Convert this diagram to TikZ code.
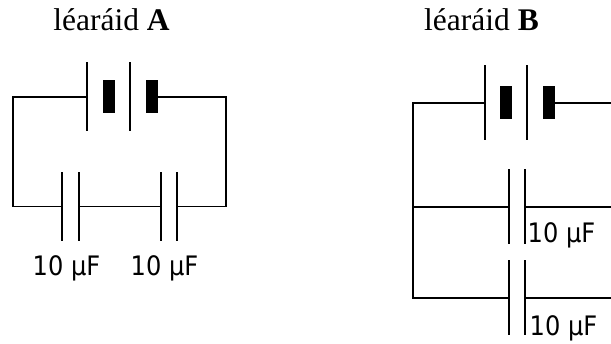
\documentclass[tikz,border=0pt]{standalone}
\usepackage{fontspec}
\setmainfont{Liberation Serif}
\newfontfamily\valfont{DejaVu Sans Condensed}
\usepackage{tikz}
\tikzset{
  wire/.style={line width=1.8pt},
  plate/.style={rectangle,fill=black,inner sep=0pt,minimum width=2pt},
  longplate/.style={plate,minimum height=69pt},
  tallplate/.style={plate,minimum height=75pt},
  cell/.style={rectangle,fill=black,inner sep=0pt,minimum width=12pt,minimum height=33pt},
  title/.style={inner sep=0pt,font=\fontsize{31.5}{36}\selectfont},
  val/.style={inner sep=0pt,font=\valfont\fontsize{26.8}{30}\selectfont}
}
\begin{document}
\begin{tikzpicture} [x=1pt,y=-1pt]
    \useasboundingbox (0,0) rectangle (611,344);
    % A
      \node[title] (ta) at (111.5,20) {léaráid \textbf{A}};
      \node[longplate] (a1) at (87,97) {};
      \node[cell] (a2) at (108.5,97) {};
      \node[longplate] (a3) at (130,97) {};
      \node[cell] (a4) at (152,97) {};
      \node[longplate] (a5) at (62,206.5) {};
      \node[longplate] (a6) at (79,206.5) {};
      \node[longplate] (a7) at (161,206.5) {};
      \node[longplate] (a8) at (177,206.5) {};
      \coordinate (a9) at (13,97);
      \coordinate (a10) at (13,206.5);
      \coordinate (a11) at (226,97);
      \coordinate (a12) at (226,206.5);
      \node[val] (va1) at (66.5,268) {10 µF};
      \node[val] (va2) at (164.5,268) {10 µF};
    \draw[wire] (a1) -- (a9) -- (a10) -- (a5);
    \draw[wire] (a6) -- (a7);
    \draw[wire] (a4) -- (a11) -- (a12) -- (a8);
    % B
      \node[title] (tb) at (481.5,20) {léaráid \textbf{B}};
      \node[tallplate] (b1) at (485,103) {};
      \node[cell] (b2) at (506,103) {};
      \node[tallplate] (b3) at (527,103) {};
      \node[cell] (b4) at (549,103) {};
      \node[tallplate] (b5) at (509,207) {};
      \node[tallplate] (b6) at (525,207) {};
      \node[tallplate] (b7) at (509,298) {};
      \node[tallplate] (b8) at (525,298) {};
      \coordinate (b9) at (413,103);
      \coordinate (b10) at (413,207);
      \coordinate (b11) at (413,298);
      \coordinate (b12) at (611,103);
      \coordinate (b13) at (611,207);
      \coordinate (b14) at (611,298);
      \node[val] (vb1) at (561.5,235) {10 µF};
      \node[val] (vb2) at (563.5,328) {10 µF};
    \draw[wire] (b1) -- (b9) -- (b11) -- (b7);
    \draw[wire] (b10) -- (b5);
    \draw[wire] (b4) -- (b12);
    \draw[wire] (b6) -- (b13);
    \draw[wire] (b8) -- (b14);
    \end{tikzpicture}
\end{document}
